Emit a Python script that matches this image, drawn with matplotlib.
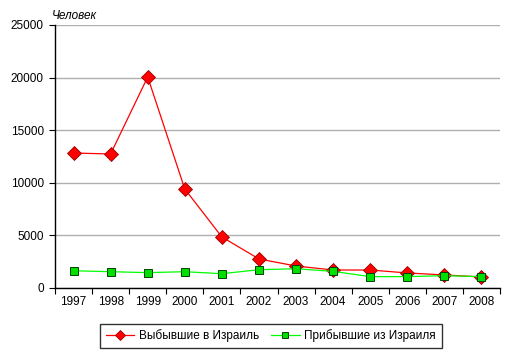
import matplotlib
matplotlib.use("Agg")
from matplotlib import pyplot as plt

years = ["1997", "1998", "1999", "2000", "2001", "2002",
         "2003", "2004", "2005", "2006", "2007", "2008"]
left_to_israel = [12830, 12740, 20060, 9410, 4850, 2760,
                  2090, 1710, 1710, 1430, 1240, 1050]
arrived_from_israel = [1640, 1550, 1460, 1550, 1360, 1740,
                       1830, 1580, 1080, 1080, 1170, 1080]

plt.rcParams['font.family'] = ['Liberation Sans', 'DejaVu Sans']

fig = plt.figure(figsize=(5.15, 3.57), dpi=100)
ax = fig.add_axes([55 / 515, 1 - 288 / 357, 445 / 515, 263 / 357])

x = list(range(len(years)))
ax.plot(x, left_to_israel, '-', color='#ff0000', lw=0.9,
        marker='D', markersize=7, markerfacecolor='#ff0000',
        markeredgecolor='#990000', markeredgewidth=0.6,
        label="Выбывшие в Израиль")
ax.plot(x, arrived_from_israel, '-', color='#00ff00', lw=0.9,
        marker='s', markersize=5.5, markerfacecolor='#00e000',
        markeredgecolor='#004000', markeredgewidth=0.7,
        label="Прибывшие из Израиля")

ax.set_xlim(-0.5, len(years) - 0.5)
ax.set_ylim(0, 25000)
ax.set_yticks(range(0, 25001, 5000))
ax.yaxis.grid(True, color='#b0b0b0', lw=1)
ax.set_axisbelow(True)

ax.set_xticks([i - 0.5 for i in range(len(years) + 1)])
ax.set_xticklabels([])
ax.set_xticks(x, minor=True)
ax.set_xticklabels(years, minor=True, fontsize=8.5)
ax.tick_params(axis='x', which='minor', length=0, pad=6)
ax.tick_params(axis='x', which='major', length=4, direction='out')
ax.tick_params(axis='y', length=4, direction='out', labelsize=8.5, pad=4)

for side in ('top', 'right'):
    ax.spines[side].set_visible(False)
ax.spines['left'].set_linewidth(1)
ax.spines['bottom'].set_linewidth(1)

fig.text(52 / 515, 1 - 16 / 357, "Человек", fontsize=8.5, style='italic',
         va='center', ha='left')

leg = fig.legend(loc='center', bbox_to_anchor=(271 / 515, 1 - 336 / 357),
                 ncol=2, fontsize=8.5, frameon=True, fancybox=False,
                 edgecolor='black', handlelength=2.4, columnspacing=1.0,
                 borderpad=0.5, handletextpad=0.4, markerscale=0.75)
leg.get_frame().set_linewidth(1)

plt.savefig('out.png', dpi=100)
